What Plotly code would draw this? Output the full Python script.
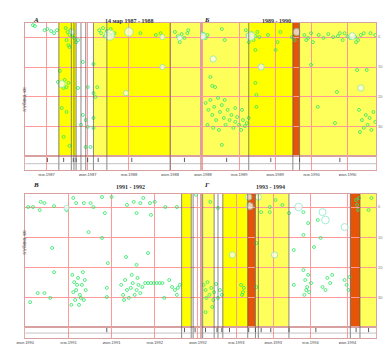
import plotly.graph_objects as go

# ---------------- Panel А : 1987 - 1988 ----------------
a_year = [1986.837, 1986.860, 1986.977, 1987.012, 1987.058, 1987.093, 1987.128, 1987.233, 1987.256, 1987.279,
          1987.244, 1987.267, 1987.291, 1987.314, 1987.337, 1987.360, 1987.384, 1987.279, 1987.640, 1987.663,
          1987.686, 1987.709, 1987.733, 1987.756, 1987.779, 1987.802, 1987.826, 1988.140, 1988.326, 1988.384,
          1988.558, 1988.593, 1988.616, 1988.640, 1988.674, 1988.709, 1988.721, 1987.442, 1987.570, 1987.163,
          1987.140, 1987.221, 1987.244, 1987.267, 1987.209, 1987.384, 1987.500, 1987.616, 1987.570, 1987.593,
          1987.186, 1987.244, 1987.442, 1987.477, 1987.419, 1987.500, 1987.570, 1987.570, 1987.209, 1987.279,
          1987.477, 1987.535]
a_depth = [-4.0, -3.7, -2.3, -2.7, -2.0, -1.3, -2.3, -3.0, -1.7, -0.7,
           1.0, 2.7, -2.3, -0.7, 0.3, 1.7, 1.0, 3.3, -2.3, -1.3,
           -3.0, -0.3, -2.0, -1.0, -2.7, -0.7, -1.3, -1.3, -0.7, -1.3,
           -1.7, -0.3, 1.7, -1.0, 0.3, -1.3, -2.3, 8.3, 9.0, 11.3,
           15.0, 14.3, 16.7, 15.3, 17.0, 17.0, 16.7, 16.7, 18.7, 20.0,
           23.7, 25.0, 26.0, 27.7, 29.3, 30.0, 27.0, 30.3, 33.3, 36.3,
           36.7, 36.7]
a_big_year = [1987.767, 1988.000, 1988.407, 1987.186, 1988.407, 1987.965, 1987.314, 1988.616]
a_big_depth = [-0.7, -1.7, 0.0, 15.7, 10.0, 18.7, -1.7, 0.3]
a_big_mag = [3.0, 2.5, 1.5, 2.0, 1.5, 1.5, 1.5, 1.5]
a_band_start = [1987.151, 1987.302, 1987.570, 1987.733, 1988.500]
a_band_end = [1987.302, 1987.360, 1987.733, 1988.500, 1988.872]
a_band_kind = ["y", "y", "p", "y", "p"]
a_edges = [1987.151, 1987.302, 1987.334, 1987.360, 1987.419, 1987.477, 1987.570, 1987.733, 1988.500]
a_marks = [1987.012, 1987.209, 1987.326, 1987.360, 1987.500, 1987.628, 1988.035, 1988.674]
a_ticks = [1987.0, 1987.5, 1988.0, 1988.5]
a_ticklabels = ["янв.1987", "июл.1987", "янв.1988", "июл.1988"]
a_range = [1986.744, 1988.872]

# ---------------- Panel Б : 1989 - 1990 ----------------
b_year = [1988.483, 1988.509, 1988.536, 1988.562, 1988.761, 1988.801, 1989.093, 1989.119, 1989.146, 1989.172,
          1989.199, 1989.225, 1989.252, 1989.279, 1989.133, 1989.398, 1989.570, 1989.531, 1989.729, 1989.769,
          1989.902, 1989.928, 1989.955, 1989.995, 1990.021, 1990.101, 1990.167, 1990.233, 1990.300, 1990.366,
          1990.432, 1990.393, 1990.459, 1990.499, 1990.538, 1990.605, 1990.645, 1990.684, 1990.724, 1990.618,
          1990.817, 1990.883, 1988.602, 1988.629, 1988.668, 1989.225, 1989.225, 1989.239, 1989.239, 1989.504,
          1989.995, 1990.353, 1990.631, 1990.764,
          1988.536, 1988.576, 1988.602, 1988.629, 1988.655, 1988.682, 1988.708, 1988.735, 1988.761, 1988.788,
          1988.814, 1988.841, 1988.867, 1988.894, 1988.920, 1988.947, 1988.973, 1989.000, 1989.027, 1989.053,
          1989.080, 1989.106, 1988.562, 1988.642, 1988.721, 1989.133, 1988.801, 1988.947, 1989.040, 1988.761,
          1990.658, 1990.698, 1990.724, 1990.751, 1990.777, 1990.804, 1990.830, 1990.857, 1990.883, 1990.671,
          1990.326, 1990.088]
b_depth = [-1.3, -1.0, 0.3, -0.7, -2.7, 1.0, -2.3, -0.7, 0.3, -1.3,
           1.0, -0.3, -1.7, 0.0, 1.7, -0.7, -1.7, 1.7, 0.0, 1.0,
           -0.7, 1.0, 0.3, -1.3, 1.7, -0.7, 0.3, -1.0, 0.0, -0.3,
           1.0, -1.3, -1.3, -0.3, 0.3, 0.0, 1.0, -0.7, -1.3, 1.7,
           -1.3, -0.7, 13.3, 16.3, 16.7, 4.3, 15.3, 19.3, 23.3, 4.3,
           9.3, 18.3, 11.0, 11.0,
           22.0, 24.3, 21.0, 26.0, 23.3, 27.7, 20.3, 25.0, 22.7, 27.0,
           29.3, 24.3, 27.7, 26.0, 30.3, 28.3, 26.7, 29.3, 31.0, 27.7,
           29.7, 28.7, 29.3, 30.3, 31.0, 27.0, 21.0, 23.7, 24.3, 36.0,
           24.3, 27.7, 30.3, 26.0, 29.3, 27.0, 31.0, 25.0, 28.3, 31.7,
           28.7, 23.3]
b_big_year = [1988.496, 1989.159, 1989.796, 1990.565, 1988.642, 1989.305, 1990.684]
b_big_depth = [-0.3, -0.3, -1.7, -0.3, 7.3, 10.0, 17.0]
b_big_mag = [2.0, 2.5, 2.0, 2.0, 1.8, 1.8, 1.8]
b_band_start = [1988.470, 1989.133, 1989.743, 1989.836]
b_band_end = [1989.133, 1989.743, 1989.836, 1990.897]
b_band_kind = ["p", "y", "o", "p"]
b_edges = [1989.133, 1989.743, 1989.836]
b_marks = [1988.828, 1989.438, 1989.836, 1990.393]
b_ticks = [1988.5, 1989.0, 1989.5, 1990.0, 1990.5]
b_ticklabels = ["июл.1988", "янв.1989", "июл.1989", "янв.1990", "июл.1990"]
b_range = [1988.470, 1990.897]

# ---------------- Panel В : 1991 - 1992 ----------------
c_year = [1990.533, 1990.589, 1990.678, 1990.722, 1990.667, 1990.833, 1990.978, 1991.056, 1991.089, 1991.178,
          1991.256, 1991.289, 1991.389, 1991.422, 1991.500, 1991.678, 1991.756, 1991.833, 1991.867, 1991.944,
          1992.000, 1992.122, 1992.256, 1991.789, 1991.956, 1992.478, 1991.233, 1990.811, 1991.389, 1991.922,
          1991.667, 1991.456, 1991.789, 1990.833,
          1991.044, 1991.067, 1991.089, 1991.111, 1991.133, 1991.156, 1991.178, 1991.078, 1991.122, 1991.167,
          1991.200, 1991.056, 1991.100, 1991.144, 1991.189, 1991.033,
          1991.611, 1991.633, 1991.656, 1991.678, 1991.700, 1991.722, 1991.744, 1991.767, 1991.789, 1991.811,
          1991.833, 1991.856, 1991.644, 1991.733, 1991.800,
          1991.889, 1991.922, 1991.956, 1991.989, 1992.022, 1992.056, 1992.089,
          1992.167, 1992.200, 1992.233, 1992.267, 1992.289,
          1990.722, 1990.789, 1991.444, 1991.444, 1990.556, 1992.111, 1992.256, 1990.644]
c_depth = [0.0, 0.0, -1.7, -1.3, 1.0, -0.3, 1.0, -3.0, -1.3, -1.3,
           -1.3, 0.0, -3.3, 2.0, -3.3, -0.7, -1.7, -1.3, -3.0, -1.3,
           -1.7, 0.0, 0.0, 2.0, 2.6, -4.0, 8.3, 13.5, 10.2, 15.2,
           16.5, 18.5, 19.1, 21.5,
           22.4, 24.8, 27.4, 23.4, 29.0, 25.7, 30.7, 30.7, 32.3, 21.5,
           27.4, 28.1, 25.7, 30.0, 24.1, 32.3,
           25.7, 29.0, 24.1, 27.4, 30.0, 26.7, 25.1, 29.0, 27.4, 25.7,
           28.4, 26.4, 30.7, 22.4, 23.4,
           25.1, 25.1, 25.1, 25.1, 25.1, 25.1, 25.1,
           24.1, 26.4, 27.4, 26.7, 25.7,
           28.4, 30.0, 26.7, 29.7, 31.4, 30.0, 29.0, 28.4]
c_big_year = [1990.978]
c_big_depth = [0.3]
c_big_mag = [1.5]
c_band_start = [1992.311]
c_band_end = [1992.422]
c_band_kind = ["y"]
c_edges = [1992.311, 1992.422, 1992.444]
c_marks = [1991.444, 1992.344, 1992.467]
c_ticks = [1990.5, 1991.0, 1991.5, 1992.0, 1992.5]
c_ticklabels = ["июл.1990", "янв.1991", "июл.1991", "янв.1992", "июл.1992"]
c_range = [1990.500, 1992.533]

# ---------------- Panel Г : 1993 - 1994 ----------------
d_year = [1992.651, 1992.754, 1993.336, 1993.453, 1993.453, 1993.621, 1993.530, 1993.906, 1994.100, 1993.970,
          1994.617, 1994.630, 1994.643, 1994.656, 1994.785, 1994.824, 1993.712, 1993.272, 1993.776, 1994.048,
          1994.138, 1993.906, 1993.776,
          1992.560, 1992.586, 1992.612, 1992.638, 1992.664, 1992.702, 1992.728, 1992.754, 1992.780, 1992.806,
          1992.599, 1992.690, 1992.586, 1992.677, 1993.065, 1993.091, 1993.103, 1993.078, 1993.272,
          1993.906, 1993.931, 1993.957, 1993.983, 1993.919, 1993.970, 1994.009, 1993.944, 1994.229, 1994.268,
          1994.294, 1994.203, 1994.164, 1994.462, 1994.488, 1994.514, 1994.527]
d_depth = [-1.7, 0.3, 1.7, 0.0, 1.7, -0.7, -2.3, 1.7, 4.3, 5.3,
           -2.3, -0.7, 1.0, -3.0, 1.0, -3.0, 2.0, 11.9, 14.2, 13.2,
           10.2, 9.2, 25.7,
           25.7, 27.4, 24.8, 29.0, 26.7, 28.1, 25.4, 30.0, 27.4, 29.0,
           30.0, 30.7, 34.7, 33.0, 25.7, 28.1, 26.7, 29.0, 26.4,
           20.8, 24.1, 26.4, 28.1, 29.0, 22.4, 25.1, 27.4, 23.4, 25.1,
           22.4, 27.4, 26.4, 24.1, 25.7, 27.4, 23.1]
d_big_year = [1993.181, 1993.168, 1993.298, 1993.841, 1994.164, 1994.203, 1994.462, 1992.948, 1993.517]
d_big_depth = [-0.3, -3.3, -3.3, 0.0, 1.7, 4.3, 6.6, 15.8, 15.8]
d_big_mag = [2.0, 1.8, 1.8, 2.2, 2.0, 2.2, 2.0, 1.8, 1.8]
d_band_start = [1992.547, 1992.819, 1993.155, 1993.259, 1994.539, 1994.669]
d_band_end = [1992.702, 1993.155, 1993.259, 1993.711, 1994.669, 1994.889]
d_band_kind = ["p", "y", "o", "p", "o", "p"]
d_edges = [1992.547, 1992.702, 1992.754, 1992.819, 1993.155, 1993.259, 1993.298, 1993.711, 1994.539, 1994.669]
d_marks = [1992.586, 1992.741, 1992.806, 1992.909, 1993.168, 1993.259, 1993.336, 1993.466, 1993.712,
           1994.074, 1994.617, 1994.785]
d_ticks = [1992.5, 1993.0, 1993.5, 1994.0, 1994.5]
d_ticklabels = ["июл.1992", "янв.1993", "июл.1993", "янв.1994", "июл.1994"]
d_range = [1992.522, 1994.889]

depth_ticks = [0, 10, 20, 30]
panel_letters = ["А", "Б", "В", "Г"]
panel_titles = ["14 мар 1987 - 1988", "1989 - 1990", "1991 - 1992", "1993 - 1994"]
y_title = "глубина, км"

# ---------------- styling / layout ----------------
W, H = 390, 347
BAND_COLORS = {"y": "#ffff00", "p": "#ffff5c", "o": "#e65408"}
GREEN = "#2ee864"
BIG_LINE = "#7fe6c8"
GRID = "#ff9a9a"


def fx(px):
    return px / W


def fy(py):
    return 1 - py / H


panels = [
    dict(year=a_year, depth=a_depth, by=a_big_year, bd=a_big_depth, bm=a_big_mag, bs=a_band_start,
         be=a_band_end, bk=a_band_kind, edges=a_edges, marks=a_marks, ticks=a_ticks, tl=a_ticklabels,
         xr=a_range, xpx=(17, 200), ypx=(23, 156, 170), yr=[39.7, -4.7], right=False, tpx=98),
    dict(year=b_year, depth=b_depth, by=b_big_year, bd=b_big_depth, bm=b_big_mag, bs=b_band_start,
         be=b_band_end, bk=b_band_kind, edges=b_edges, marks=b_marks, ticks=b_ticks, tl=b_ticklabels,
         xr=b_range, xpx=(200, 383), ypx=(23, 156, 170), yr=[39.7, -4.7], right=True, tpx=296),
    dict(year=c_year, depth=c_depth, by=c_big_year, bd=c_big_depth, bm=c_big_mag, bs=c_band_start,
         be=c_band_end, bk=c_band_kind, edges=c_edges, marks=c_marks, ticks=c_ticks, tl=c_ticklabels,
         xr=c_range, xpx=(17, 200), ypx=(194, 327, 338), yr=[39.6, -4.3], right=False, tpx=110),
    dict(year=d_year, depth=d_depth, by=d_big_year, bd=d_big_depth, bm=d_big_mag, bs=d_band_start,
         be=d_band_end, bk=d_band_kind, edges=d_edges, marks=d_marks, ticks=d_ticks, tl=d_ticklabels,
         xr=d_range, xpx=(200, 383), ypx=(194, 327, 338), yr=[39.6, -4.3], right=True, tpx=290),
]

fig = go.Figure()
layout = dict(width=W, height=H, margin=dict(l=0, r=0, t=0, b=0), paper_bgcolor="white",
              plot_bgcolor="rgba(0,0,0,0)", showlegend=False)
shapes = []
annotations = []

for i, p in enumerate(panels):
    mi, si = 2 * i + 1, 2 * i + 2
    mx = "x" if mi == 1 else f"x{mi}"
    my = "y" if mi == 1 else f"y{mi}"
    sx, sy = f"x{si}", f"y{si}"
    xdom = [fx(p["xpx"][0]), fx(p["xpx"][1])]
    top, mid, bot = p["ypx"]
    common_x = dict(range=p["xr"], showgrid=True, gridcolor=GRID, gridwidth=0.6, zeroline=False,
                    tickvals=p["ticks"], showline=True, mirror=True, linecolor="#d9a0a0", linewidth=0.7,
                    ticks="")
    layout["xaxis" if mi == 1 else f"xaxis{mi}"] = dict(common_x, domain=xdom, anchor=my, showticklabels=False)
    layout[f"xaxis{si}"] = dict(common_x, domain=xdom, anchor=sy, showticklabels=True, ticktext=p["tl"],
                                tickfont=dict(size=4, color="#444", family="Liberation Sans"), ticklen=0)
    layout["yaxis" if mi == 1 else f"yaxis{mi}"] = dict(
        domain=[fy(mid), fy(top)], anchor=mx, range=p["yr"], tickvals=depth_ticks, showgrid=True,
        gridcolor=GRID, gridwidth=0.6, zeroline=False, showline=True, mirror=True, linecolor="#d9a0a0",
        linewidth=0.7, showticklabels=p["right"], side="right",
        tickfont=dict(size=4, color="#777", family="Liberation Sans"), ticks="")
    layout[f"yaxis{si}"] = dict(domain=[fy(bot), fy(mid)], anchor=sx, range=[0, 1], showgrid=False,
                                zeroline=False, showticklabels=False, showline=True, mirror=True,
                                linecolor="#e0b0b0", linewidth=0.7)

    # coloured activity bands
    for s, e, k in zip(p["bs"], p["be"], p["bk"]):
        shapes.append(dict(type="rect", xref=mx, yref=f"{my} domain", x0=s, x1=e, y0=0, y1=1,
                           fillcolor=BAND_COLORS[k], line=dict(width=0), layer="below"))
    # band boundary lines through main and strip
    for e in p["edges"]:
        shapes.append(dict(type="line", xref=mx, yref="paper", x0=e, x1=e, y0=fy(bot), y1=fy(top),
                           line=dict(color="#555", width=0.7), layer="above"))
    # strip centre line
    shapes.append(dict(type="line", xref=f"{sx} domain", yref=sy, x0=0, x1=1, y0=0.45, y1=0.45,
                       line=dict(color="#999", width=0.6)))

    fig.add_trace(go.Scatter(x=p["year"], y=p["depth"], xaxis=mx, yaxis=my, mode="markers",
                             marker=dict(symbol="circle-open", size=3, color=GREEN, line=dict(width=0.8)),
                             cliponaxis=True, hoverinfo="skip"))
    fig.add_trace(go.Scatter(x=p["by"], y=p["bd"], xaxis=mx, yaxis=my, mode="markers",
                             marker=dict(symbol="circle", size=[3.5 * m for m in p["bm"]], color="white",
                                         line=dict(width=1.0, color=BIG_LINE)),
                             cliponaxis=True, hoverinfo="skip"))
    fig.add_trace(go.Scatter(x=p["marks"], y=[0.72] * len(p["marks"]), xaxis=sx, yaxis=sy, mode="markers",
                             marker=dict(symbol="line-ns", size=3, line=dict(width=0.8, color="#333")),
                             hoverinfo="skip"))

    # letters and titles
    annotations.append(dict(xref="paper", yref="paper", x=fx(p["xpx"][0] + 6), y=fy(top - 9),
                            text=f"<i><b>{panel_letters[i]}</b></i>", showarrow=False,
                            font=dict(size=7, family="Liberation Serif", color="#222")))
    annotations.append(dict(xref="paper", yref="paper", x=fx(p["tpx"]),
                            y=fy(top - 7), text=f"<b>{panel_titles[i]}</b>", showarrow=False,
                            font=dict(size=6, family="Liberation Serif", color="#333")))
    if not p["right"]:
        annotations.append(dict(xref="paper", yref="paper", x=fx(11), y=fy((top + mid) / 2 - 4),
                                text=y_title, textangle=-90, showarrow=False,
                                font=dict(size=4.5, family="Liberation Sans", color="#555")))

layout["shapes"] = shapes
layout["annotations"] = annotations
fig.update_layout(**layout)
fig.write_html("out.html", config={"displayModeBar": False},
               post_script="document.body.style.margin='0';document.body.style.padding='0';")
